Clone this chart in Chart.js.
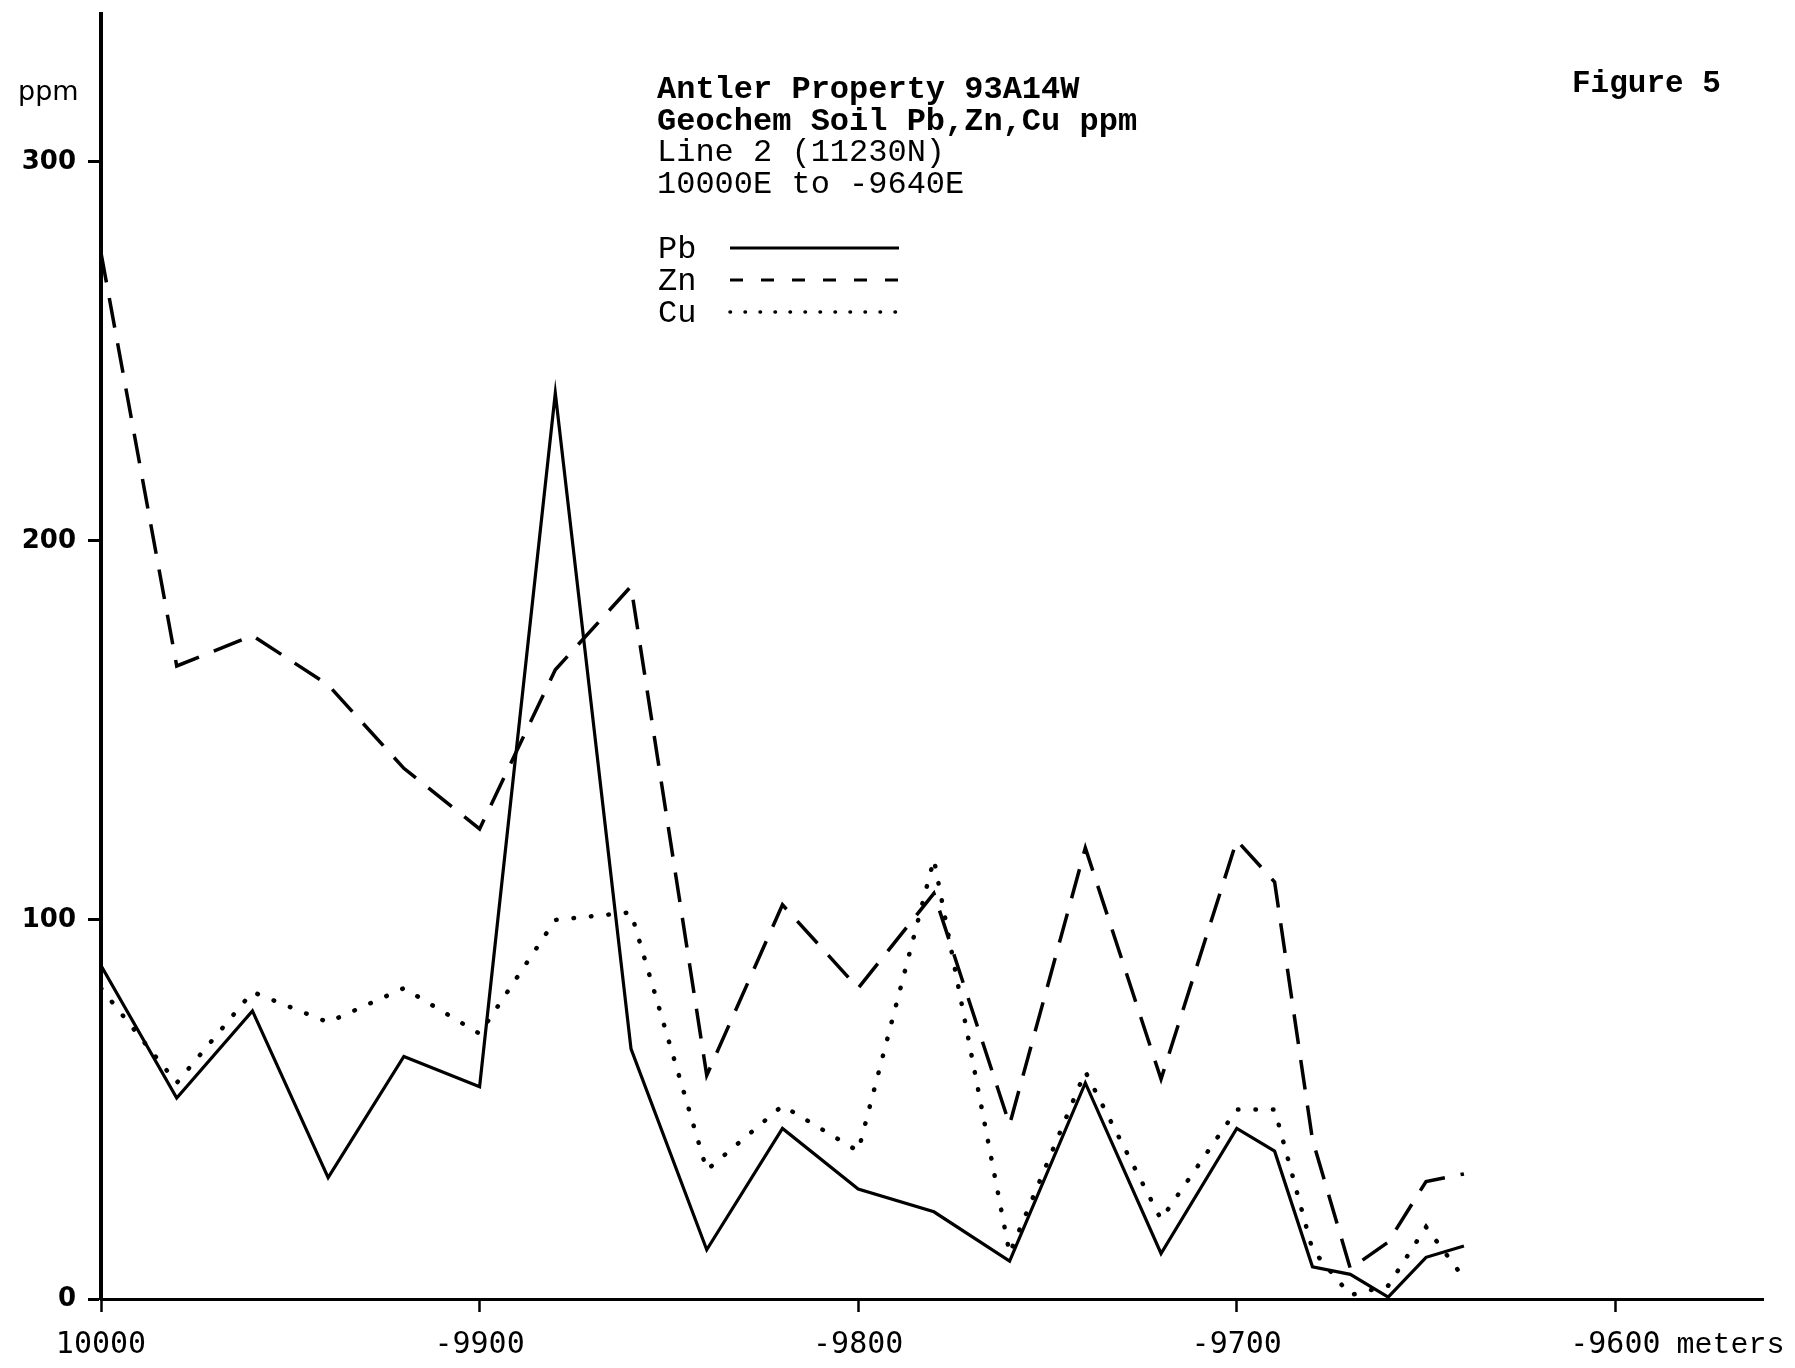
<!DOCTYPE html>
<html>
<head>
<meta charset="utf-8">
<title>Antler Property 93A14W - Geochem Soil Pb, Zn, Cu</title>
<script src="https://cdn.jsdelivr.net/npm/chart.js@4.4.1/dist/chart.umd.min.js"></script>
<style>
  html, body { margin: 0; padding: 0; background: #fff; }
  canvas { display: block; }
</style>
</head>
<body>
<canvas id="chart" width="1795" height="1368"></canvas>
<script>
// Sample stations along Line 2 (metres) and soil assays (ppm)
const stations = [-10000, -9980, -9960, -9940, -9920, -9900, -9880, -9860, -9840, -9820, -9800,
                  -9780, -9760, -9740, -9720, -9700, -9690, -9680, -9670, -9660, -9650, -9640];
const pb = [88, 53, 76, 32, 64, 56, 239, 66, 13, 45, 29, 23, 10, 57, 12, 45, 39, 8.5, 6.5, 0.5, 11, 14];
const zn = [276, 167, 175, 162, 140, 124, 166, 188, 59, 104, 82, 107, 46, 119, 58, 121, 110, 42, 8, 15, 31, 33];
const cu = [82, 57, 81, 73, 82, 70, 100, 102, 34, 51, 39, 116, 12, 60, 21, 50, 50, 13, 1, 3.5, 19, 5.5];

const yTicks = [0, 100, 200, 300];
const xTicks = [-10000, -9900, -9800, -9700, -9600];
const xTickLabels = ['10000', '-9900', '-9800', '-9700', '-9600'];

const titleLines = [
  { text: 'Antler Property 93A14W', bold: true },
  { text: 'Geochem Soil Pb,Zn,Cu ppm', bold: true },
  { text: 'Line 2 (11230N)', bold: false },
  { text: '10000E to -9640E', bold: false }
];
const figureLabel = 'Figure 5';
const yUnit = 'ppm';
const xUnit = 'meters';

const MONO = "'Liberation Mono', 'Courier New', monospace";
const XFONT = "'DejaVu Sans Mono', monospace";

const toPoints = (vals) => stations.map((x, i) => ({ x: x, y: vals[i] }));

const seriesStyles = {
  Pb: { borderWidth: 3.2, borderDash: [], legendDash: [], cap: 'butt' },
  Zn: { borderWidth: 3.5, borderDash: [30, 16], legendDash: [13, 18], cap: 'butt' },
  Cu: { borderWidth: 4.5, borderDash: [0.5, 17], legendDash: [0.5, 14.5], cap: 'round' }
};

// Annotation text: title block, legend, figure number and axis units
const annotations = {
  id: 'annotations',
  afterDraw(chart) {
    const ctx = chart.ctx;
    ctx.save();
    ctx.fillStyle = '#000';
    ctx.textAlign = 'left';
    ctx.textBaseline = 'alphabetic';

    // title block
    const baselines = [98, 130, 161, 193];
    titleLines.forEach((ln, i) => {
      ctx.font = (ln.bold ? 'bold ' : '') + '32px ' + MONO;
      ctx.fillText(ln.text, 657, baselines[i]);
    });

    // figure number
    ctx.font = 'bold 31px ' + MONO;
    ctx.fillText(figureLabel, 1572, 92);

    // legend
    const legendRows = [258, 290, 322];
    chart.data.datasets.forEach((ds, i) => {
      const st = seriesStyles[ds.label];
      ctx.font = '32px ' + MONO;
      ctx.fillText(ds.label, 658, legendRows[i]);
      ctx.beginPath();
      ctx.setLineDash(st.legendDash);
      ctx.lineCap = st.cap;
      ctx.lineWidth = ds.label === 'Cu' ? 3.5 : 3;
      ctx.strokeStyle = '#000';
      const ly = legendRows[i] - 10;
      ctx.moveTo(730, ly);
      ctx.lineTo(ds.label === 'Pb' ? 899 : 908, ly);
      ctx.stroke();
    });
    ctx.setLineDash([]);

    // y unit
    ctx.font = "27px 'DejaVu Sans', sans-serif";
    ctx.fillText(yUnit, 18, 100);

    // x unit next to the last tick label
    const xs = chart.scales.x;
    const px = xs.getPixelForValue(xTicks[xTicks.length - 1]);
    ctx.font = '30px ' + XFONT;
    const w = ctx.measureText(xTickLabels[xTickLabels.length - 1]).width;
    ctx.font = '30px ' + MONO;
    ctx.fillText(xUnit, px + w / 2 + 16, 1353);
    ctx.restore();
  }
};

const ctx = document.getElementById('chart').getContext('2d');
new Chart(ctx, {
  type: 'line',
  data: {
    datasets: [
      { label: 'Pb', data: toPoints(pb) },
      { label: 'Zn', data: toPoints(zn) },
      { label: 'Cu', data: toPoints(cu) }
    ].map(ds => Object.assign(ds, {
      borderColor: '#000',
      backgroundColor: '#000',
      borderWidth: seriesStyles[ds.label].borderWidth,
      borderDash: seriesStyles[ds.label].borderDash,
      borderCapStyle: seriesStyles[ds.label].cap,
      borderJoinStyle: 'miter',
      pointRadius: 0,
      tension: 0,
      fill: false
    }))
  },
  options: {
    responsive: false,
    animation: false,
    devicePixelRatio: 1,
    layout: { padding: { left: 0, top: 14, right: 32, bottom: 0 } },
    plugins: {
      legend: { display: false },
      tooltip: { enabled: false },
      title: { display: false }
    },
    scales: {
      x: {
        type: 'linear',
        min: -10000,
        max: -9561,
        afterBuildTicks: (s) => { s.ticks = xTicks.map(v => ({ value: v })); },
        afterFit: (s) => { s.height = 69; s.paddingLeft = 0; s.paddingRight = 0; },
        grid: { drawOnChartArea: false, drawTicks: true, tickLength: 13, tickWidth: 2.5, tickColor: '#000' },
        border: { display: true, color: '#000', width: 3 },
        ticks: {
          color: '#000',
          autoSkip: false,
          maxRotation: 0,
          padding: 15,
          font: { family: XFONT, size: 30 },
          callback: (v) => xTickLabels[xTicks.indexOf(v)]
        }
      },
      y: {
        type: 'linear',
        min: 0,
        max: 339,
        afterBuildTicks: (s) => { s.ticks = yTicks.map(v => ({ value: v })); },
        afterFit: (s) => { s.width = 101; s.paddingTop = 0; s.paddingBottom = 0; },
        grid: { drawOnChartArea: false, drawTicks: true, tickLength: 13, tickWidth: 3, tickColor: '#000' },
        border: { display: true, color: '#000', width: 4 },
        ticks: {
          color: '#000',
          padding: 12,
          font: { family: "'DejaVu Sans', sans-serif", size: 26, weight: 'bold' }
        }
      }
    }
  },
  plugins: [annotations]
});
</script>
</body>
</html>
